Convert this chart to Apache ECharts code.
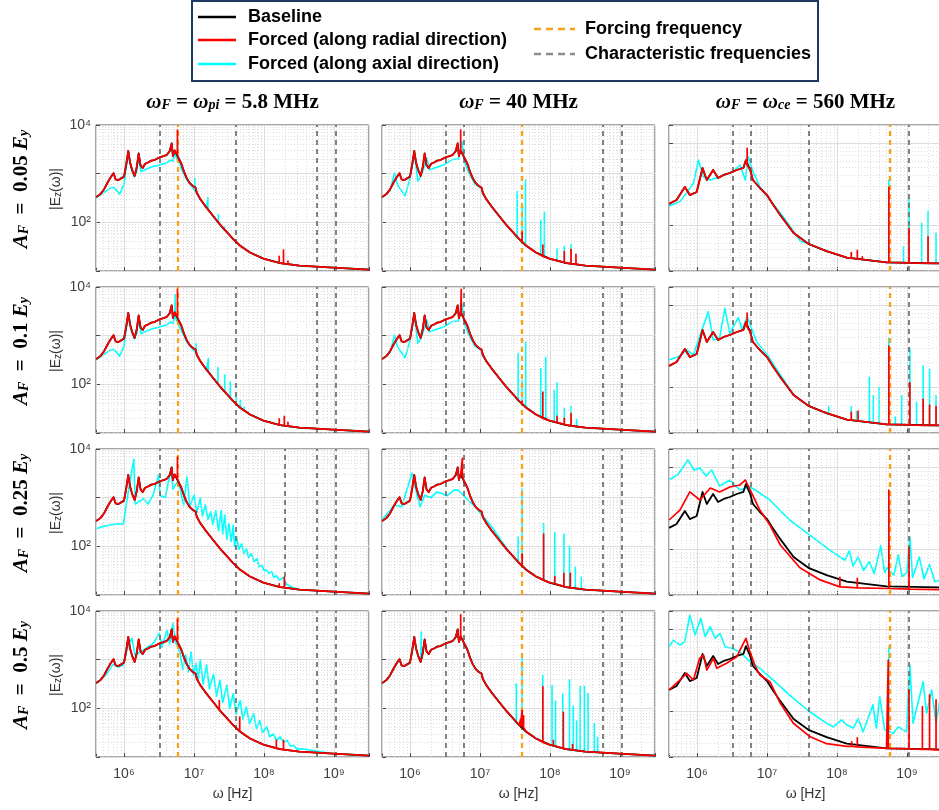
<!DOCTYPE html>
<html>
<head>
<meta charset="utf-8">
<script src="https://cdn.jsdelivr.net/npm/echarts@6/dist/echarts.min.js"></script>
<style>
  html, body { margin: 0; padding: 0; background: #ffffff; }
  #chart { width: 939px; height: 810px; }
</style>
</head>
<body>
<div id="chart"></div>
<script>
// ---------------- axis extents / layout ----------------
const X_MIN = 398107, X_MAX = 3162277660;          // 10^5.6 .. 10^9.5 Hz
const Y_RANGE_STD = [10, 10000];                    // columns 1-2
const Y_RANGE_CE = [27.5, 1660];                    // column 3
const COL_LEFT = [96, 382, 669];
const ROW_TOP = [125, 287, 449, 611];
const PLOT_W = 273, PLOT_H = 146;

// ---------------- labels ----------------
const amplitudes = ['0.05', '0.1', '0.25', '0.5'];
const colTitles = [
  '{w|ω}{s|F}{b| = }{w|ω}{s|pi}{b| = 5.8 MHz}',
  '{w|ω}{s|F}{b| = 40 MHz}',
  '{w|ω}{s|F}{b| = }{w|ω}{s|ce}{b| = 560 MHz}'
];
const xLabelExps = [6, 7, 8, 9];
const yLabelExps = [2, 4];

// ---------------- frequencies (Hz) ----------------
const forcingFreqs = [5.8e6, 4.0e7, 5.6e8];
const characteristicFreqs = [3.2e6, 5.8e6, 4.0e7, 5.6e8, 1.06e9];
const extraCharFreqR3C1 = [1.95e8];

// ---------------- spectra |Ez(w)| : [frequency Hz, amplitude] ----------------
const baseline = [[4.0e5,330],[4.6e5,380],[5.2e5,480],[5.8e5,650],[6.5e5,860],[7.1e5,1020],[7.6e5,760],[8.3e5,740],[9.1e5,800],[1.0e6,870],
  [1.08e6,1600],[1.15e6,2950],[1.22e6,1700],[1.32e6,1150],[1.42e6,900],[1.52e6,1350],[1.62e6,2600],[1.72e6,1500],[1.85e6,1300],[2.0e6,1600],
  [2.2e6,1700],[2.45e6,1850],[2.7e6,1900],[3.0e6,2050],[3.3e6,2200],[3.7e6,2300],[4.1e6,2450],[4.5e6,2900],[4.8e6,4200],[5.0e6,2300],
  [5.3e6,3000],[5.6e6,2800],[6.0e6,2100],[6.6e6,1600],[7.2e6,1100],[7.9e6,800],[8.7e6,640],[9.6e6,560],[1.05e7,520],[1.1e7,400],
  [1.23e7,300],[1.51e7,200],[1.9e7,132],[2.34e7,91],[2.95e7,63],[3.63e7,45],[4.57e7,33],[6.3e7,24],[9.8e7,18],[1.7e8,14.5],
  [3.2e8,12.9],[9.8e8,11.7],[3.16e9,10.7]];

const baselineCe = [[4.0e5,181],[5.1e5,202],[6.7e5,291],[7.9e5,232],[9.9e5,253],[1.2e6,497],[1.38e6,354],[1.7e6,469],[2.0e6,375],[2.4e6,408],
  [2.95e6,431],[3.7e6,469],[4.6e6,497],[5.0e6,620],[5.75e6,469],[6.3e6,354],[7.9e6,283],[1.0e7,232],[1.18e7,186],[1.55e7,132],
  [2.4e7,80],[3.9e7,59],[7.1e7,48],[1.38e8,40],[5.1e8,35],[2.9e9,34],[3.16e9,34]];

// axial-forcing low-frequency parts
const axialHeadA = [[4.0e5,320],[5.0e5,400],[6.3e5,500],[7.2e5,520],[8.7e5,380],[1.0e6,620],[1.08e6,1400],[1.17e6,2700],[1.26e6,1300],[1.4e6,860],
  [1.52e6,1100],[1.62e6,2200],[1.75e6,1100],[2.1e6,1250],[2.6e6,1400],[3.2e6,1500],[4.0e6,1650],[4.6e6,1900],[5.0e6,1800],[5.3e6,2600],
  [5.8e6,1900],[6.6e6,1250],[8.0e6,720],[9.5e6,520],[1.1e7,390]];
const axialHeadB = [[4.0e5,330],[5.2e5,450],[6.0e5,1020],[6.6e5,600],[8.5e5,350],[1.0e6,800],[1.15e6,2600],[1.3e6,690],[1.48e6,1000],[1.74e6,2100],
  [1.9e6,1200],[2.3e6,1320],[3.0e6,1500],[4.0e6,1950],[4.9e6,2000],[5.5e6,4600],[6.0e6,1800],[6.8e6,1100],[8.5e6,600],[1.05e7,500],[1.1e7,380]];
const axialHeadCe1 = [[4.0e5,171],[5.7e5,193],[8.9e5,323],[1.05e6,620],[1.23e6,389],[1.55e6,354],[2.1e6,389],[3.3e6,447],[4.1e6,540],[4.9e6,354],
  [5.4e6,683],[6.3e6,447],[7.9e6,294],[1.1e7,202],[1.7e7,126],[3.0e7,64]];
const axialHeadCe2 = [[4.0e5,214],[5.7e5,239],[7.1e5,283],[8.9e5,246],[1.07e6,393],[1.45e6,830],[1.7e6,375],[2.1e6,393],[2.5e6,912],[2.95e6,452],
  [3.9e6,708],[4.4e6,497],[5.2e6,721],[7.1e6,357],[1.0e7,250],[1.55e7,140]];
const axialHeadR3C1 = [[4.0e5,230],[5.0e5,255],[6.3e5,275],[8.0e5,290],[9.8e5,290],[1.15e6,1300],[1.38e6,6200],[1.45e6,740],[1.9e6,950],[2.2e6,740],
  [2.6e6,1120],[3.1e6,2900],[3.3e6,1100],[3.9e6,1020],[4.7e6,4000],[5.0e6,1500],[6.0e6,2300],[7.1e6,690]];
const axialCombR3C1 = [[7.94e6,2690],[8.7e6,660],[1.0e7,1120],[1.1e7,500],[1.23e7,980],[1.32e7,420],[1.45e7,710],[1.58e7,360],[1.74e7,510],[1.86e7,280],
  [2.04e7,550],[2.24e7,210],[2.45e7,550],[2.57e7,180],[2.75e7,440],[2.95e7,140],[3.16e7,295],[3.39e7,126],[3.63e7,270],[3.8e7,100],
  [4.07e7,155],[4.37e7,87],[4.79e7,112],[5.13e7,71],[5.62e7,89],[6.03e7,59],[6.6e7,71],[7.24e7,48],[7.94e7,56],[8.5e7,38],
  [9.3e7,41],[1.0e8,32],[1.1e8,32],[1.17e8,28],[1.29e8,30],[1.38e8,23],[1.51e8,25],[1.66e8,20],[1.9e8,23],[2.1e8,16.6],[2.5e8,14.5]];
const axialHeadR3C2 = [[4.0e5,350],[6.0e5,710],[7.6e5,650],[1.07e6,3200],[1.26e6,1120],[1.4e6,650],[1.62e6,1120],[2.0e6,1000],[2.4e6,1300],[2.8e6,1230],
  [3.4e6,1100],[4.3e6,1450],[4.9e6,1410],[5.75e6,1120],[8.5e6,650],[1.48e7,250],[2.5e7,83],[3.55e7,48]];
const axialR3C3 = [[4.0e5,695],[5.4e5,822],[7.4e5,1220],[9.1e5,920],[1.1e6,973],[1.35e6,776],[1.62e6,920],[2.1e6,588],[2.95e6,695],[4.1e6,525],
  [5.75e6,571],[7.9e6,482],[1.1e7,396],[2.1e7,226],[4.1e7,148],[7.9e7,97],[1.3e8,73],[1.5e8,95],[1.7e8,62],[2.0e8,80],
  [2.4e8,55],[2.9e8,70],[3.4e8,50],[4.2e8,110],[4.8e8,52],[5.3e8,60],[6.5e8,48],[7.5e8,85],[8.5e8,46],[1.0e9,52],
  [1.1e9,140],[1.2e9,45],[1.5e9,80],[1.75e9,43],[2.1e9,65],[2.5e9,40],[3.16e9,42]];
const axialHeadR4C1 = [[4.0e5,320],[5.6e5,500],[7.1e5,830],[8.3e5,700],[9.8e5,780],[1.15e6,2000],[1.29e6,2750],[1.45e6,1230],[1.9e6,1580],[2.6e6,2140],
  [3.2e6,3470],[3.5e6,1800],[4.1e6,4070],[4.5e6,2100],[5.0e6,5600],[5.5e6,2200],[6.3e6,1450]];
const axialCombR4C1 = [[6.9e6,630],[7.6e6,1260],[8.3e6,560],[9.1e6,1450],[9.8e6,480],[1.07e7,830],[1.15e7,380],[1.23e7,980],[1.35e7,316],[1.51e7,780],
  [1.66e7,250],[1.9e7,510],[2.1e7,178],[2.34e7,380],[2.57e7,132],[2.95e7,295],[3.24e7,100],[3.63e7,200],[3.98e7,76],[4.57e7,145],
  [5.0e7,60],[5.6e7,107],[6.2e7,48],[7.1e7,78],[7.8e7,38],[8.7e7,56],[9.5e7,32],[1.1e8,42],[1.2e8,26],[1.35e8,30],
  [1.51e8,22],[1.7e8,26],[1.9e8,20],[2.14e8,22],[2.4e8,16.6],[2.63e8,17.4],[2.95e8,14.5],[3.47e8,14.8]];
const axialR4C3 = [[4.0e5,609],[4.6e5,735],[5.7e5,638],[6.7e5,701],[7.9e5,1480],[9.4e5,845],[1.13e6,1350],[1.31e6,807],[1.54e6,1070],[1.81e6,771],
  [2.14e6,887],[2.52e6,609],[3.13e6,582],[4.03e6,530],[5.4e6,419],[7.9e6,332],[1.38e7,218],[2.38e7,143],[4.07e7,98],[7.1e7,71],
  [8.9e7,64],[1.16e8,78],[1.37e8,68],[1.71e8,62],[2.0e8,81],[2.36e8,56],[3.26e8,119],[3.65e8,62],[4.07e8,150],[4.8e8,59],
  [6.3e8,53],[7.5e8,64],[9.8e8,56],[1.1e9,364],[1.22e9,71],[1.7e9,228],[1.9e9,94],[2.25e9,181],[2.6e9,71],[2.95e9,136]];

// radial-forcing bodies that depart from the baseline
const radialR3C3 = [[4.0e5,226],[5.7e5,299],[7.9e5,497],[1.1e6,396],[1.55e6,555],[2.1e6,497],[2.95e6,571],[4.1e6,604],[4.9e6,695],[5.75e6,525],
  [7.9e6,299],[1.1e7,196],[1.55e7,112],[2.95e7,59],[5.75e7,42],[1.55e8,34],[3.16e9,32]];
const radialR4C3 = [[4.0e5,181],[5.7e5,239],[7.1e5,288],[8.9e5,239],[1.09e6,440],[1.24e6,482],[1.38e6,316],[1.72e6,440],[1.91e6,332],[2.65e6,382],
  [3.7e6,460],[5.0e6,771],[5.7e6,530],[6.7e6,364],[7.9e6,275],[1.1e7,228],[1.55e7,124],[2.38e7,71],[4.07e7,49],[7.1e7,40],
  [1.38e8,37],[5.1e8,35],[2.6e9,33.5],[3.16e9,33.5]];

// narrow spectral lines: [frequency, foot, top], one list per column
const radialSpikes_A005 = [
  [[5.8e6,2450,7900],[1.65e8,14.6,20],[1.9e8,14.2,27],[2.2e8,13.8,16]],
  [[5.3e6,3000,7900],[4.0e7,40,63],[7.9e7,20,34],[1.6e8,15,25],[2.0e8,14,28],[2.35e8,13.8,22]],
  [[5.2e6,540,860],[1.6e8,39.5,46],[1.95e8,38.5,49],[2.3e8,38,41],[5.5e8,35,288],[1.07e9,34.5,91],[2.0e9,34,72]]
];
const axialSpikes_A005 = [
  [[5.8e6,2450,5000],[1.03e7,450,790],[1.58e7,190,320],[2.23e7,97,145],[2.7e7,70,80]],
  [[3.4e7,48,430],[4.0e7,40,240],[4.47e7,34,740],[7.4e7,22,110],[8.3e7,20,160],[1.26e8,16.5,29],[1.6e8,15,32],[2.0e8,14,35]],
  [[1.6e8,39.5,46],[5.5e8,35,354],[8.9e8,34.5,54],[1.07e9,34.5,212],[1.62e9,34,105],[2.0e9,34,146],[2.6e9,34,80]]
];
const radialSpikes_A01 = [
  [[5.8e6,2450,8900],[1.65e8,14.6,19.5],[1.95e8,14.2,22],[2.2e8,13.8,16.6]],
  [[5.4e6,2900,8900],[4.0e7,40,45],[7.9e7,20,69],[1.26e8,16.5,22],[1.6e8,15,20],[2.0e8,14,25]],
  [[5.2e6,540,800],[1.6e8,39.5,49],[2.0e8,38.5,51],[5.5e8,35,316],[1.1e9,34.5,113],[1.7e9,34,71],[2.1e9,34,60],[2.6e9,34,58]]
];
const axialSpikes_A01 = [
  [[5.4e6,2400,7000],[1.07e7,450,690],[1.6e7,185,340],[2.2e7,100,220],[2.75e7,70,155],[3.3e7,52,112],[4.0e7,41,59],[4.6e7,33,47],[5.2e7,30,34]],
  [[3.5e7,46,430],[4.0e7,41,120],[4.5e7,35,740],[7.4e7,22,210],[8.7e7,19,360],[1.15e8,17,74],[1.26e8,16.5,107],[1.6e8,15,32],[2.0e8,14,35],[2.4e8,13.5,19]],
  [[7.6e7,47,58],[1.6e8,39.5,58],[1.9e8,38.5,50],[2.9e8,37,131],[3.3e8,36.5,79],[4.0e8,36,99],[5.5e8,35,393],[6.8e8,35,43],[8.4e8,34.5,78],
   [1.1e9,34.5,297],[1.37e9,34.5,65],[1.7e9,34,181],[2.1e9,34,165],[2.6e9,34,79]]
];
const radialSpikes_A025 = [
  [[5.8e6,2450,6800],[1.65e8,14.6,17],[1.95e8,14.2,23],[2.25e8,13.8,15]],
  [[5.6e6,2800,6400],[4.0e7,40,70],[8.1e7,20,178],[1.17e8,17,24],[1.58e8,15,28],[1.95e8,14.2,28]],
  [[1.1e8,34.5,45],[1.95e8,33.5,44],[5.5e8,33,525],[1.07e9,32.5,103]]
];
const axialSpikes_A025 = [
  [],
  [[3.5e7,48,155],[4.0e7,42,1500],[8.1e7,20,295],[1.17e8,17,190],[1.58e8,15,178],[1.9e8,14.2,100],[2.3e8,13.6,37],[2.8e8,13,23]],
  [[5.5e8,55,400]]
];
const radialSpikes_A05 = [
  [[5.8e6,2450,6800],[2.3e7,92,145],[4.5e7,34,66],[1.5e8,15,22],[1.9e8,14.2,22]],
  [[5.3e6,3000,8300],[3.8e7,44,60],[4.0e7,42,91],[4.2e7,40,70],[7.9e7,20,275],[1.12e8,17,22],[1.55e8,15,83],[2.1e8,14,18]],
  [[1.62e8,37,42],[1.95e8,36.5,47],[5.4e8,35,419],[1.07e9,34.5,181],[1.66e9,34,113],[2.1e9,34,157],[2.6e9,33.5,137]]
];
const axialSpikes_A05 = [
  [],
  [[1.45e6,950,3700],[3.3e7,50,320],[4.0e7,42,1230],[7.9e7,20,480],[1.07e8,17.5,295],[1.2e8,16.5,140],[1.52e8,15,200],[1.9e8,14.2,380],
   [2.15e8,13.8,110],[2.4e8,13.5,55],[2.7e8,13.2,280],[3.1e8,13,280],[3.5e8,12.8,200],[4.3e8,12.5,48],[4.8e8,12.4,25]],
  [[5.5e8,57,609]]
];

// ---------------- helpers ----------------
// continue a read head segment with the later part of a reference curve
function join(head, tail) {
  const last = head[head.length - 1][0];
  return head.concat(tail.filter(p => p[0] > last));
}
// insert narrow lines (vertical excursions) into a curve
function withSpikes(body, spikes) {
  const pts = body.map(p => [p[0], p[1], 0]);
  spikes.forEach(s => { pts.push([s[0], s[1], 1], [s[0], s[2], 2], [s[0], s[1], 3]); });
  pts.sort((a, b) => (a[0] - b[0]) || (a[2] - b[2]));
  return pts.map(p => [p[0], p[1]]);
}

// per-panel curves [row][col]
const radialCurves = [
  [withSpikes(baseline, radialSpikes_A005[0]), withSpikes(baseline, radialSpikes_A005[1]), withSpikes(baselineCe, radialSpikes_A005[2])],
  [withSpikes(baseline, radialSpikes_A01[0]), withSpikes(baseline, radialSpikes_A01[1]), withSpikes(baselineCe, radialSpikes_A01[2])],
  [withSpikes(baseline, radialSpikes_A025[0]), withSpikes(baseline, radialSpikes_A025[1]), withSpikes(radialR3C3, radialSpikes_A025[2])],
  [withSpikes(baseline, radialSpikes_A05[0]), withSpikes(baseline, radialSpikes_A05[1]), withSpikes(radialR4C3, radialSpikes_A05[2])]
];
const axialCurves = [
  [withSpikes(join(axialHeadA, baseline), axialSpikes_A005[0]), withSpikes(join(axialHeadB, baseline), axialSpikes_A005[1]), withSpikes(join(axialHeadCe1, baselineCe), axialSpikes_A005[2])],
  [withSpikes(join(axialHeadA, baseline), axialSpikes_A01[0]), withSpikes(join(axialHeadB, baseline), axialSpikes_A01[1]), withSpikes(join(axialHeadCe2, baselineCe), axialSpikes_A01[2])],
  [join(axialHeadR3C1.concat(axialCombR3C1), baseline), withSpikes(join(axialHeadR3C2, baseline), axialSpikes_A025[1]), withSpikes(axialR3C3, axialSpikes_A025[2])],
  [join(axialHeadR4C1.concat(axialCombR4C1), baseline), withSpikes(baseline, axialSpikes_A05[1]), withSpikes(axialR4C3, axialSpikes_A05[2])]
];
const baselineCurves = [baseline, baseline, baselineCe];

// ---------------- styling ----------------
const C_BLACK = '#000000', C_RED = '#ff0000', C_CYAN = '#00ffff', C_ORANGE = '#f7a21b', C_GRAY = '#6e6e6e';
const SUP = { '0': '⁰', '1': '¹', '2': '²', '3': '³', '4': '⁴', '5': '⁵', '6': '⁶', '7': '⁷', '8': '⁸', '9': '⁹' };
function decadeLabel(v, allowed) {
  const l = Math.log10(v), e = Math.round(l);
  if (Math.abs(l - e) > 1e-6 || allowed.indexOf(e) < 0) return '';
  return '10' + String(e).split('').map(d => SUP[d]).join('');
}
function minorValues(lo, hi) {
  const out = [];
  for (let e = Math.floor(Math.log10(lo)); e <= Math.ceil(Math.log10(hi)); e++) {
    for (let k = 2; k <= 9; k++) { const v = k * Math.pow(10, e); if (v > lo && v < hi) out.push(v); }
  }
  return out;
}

const grids = [], xAxes = [], yAxes = [], series = [];
for (let r = 0; r < 4; r++) {
  for (let c = 0; c < 3; c++) {
    const i = r * 3 + c;
    const yr = c === 2 ? Y_RANGE_CE : Y_RANGE_STD;
    grids.push({ left: COL_LEFT[c], top: ROW_TOP[r], width: PLOT_W, height: PLOT_H, show: true,
      backgroundColor: '#ffffff', borderColor: '#4a4a4a', borderWidth: 1, containLabel: false, outerBoundsMode: 'none' });
    xAxes.push({ type: 'log', logBase: 10, gridIndex: i, min: X_MIN, max: X_MAX,
      axisLine: { show: false },
      axisTick: { show: true, inside: true, length: 4, lineStyle: { color: '#4a4a4a', width: 1 } },
      splitLine: { show: true, lineStyle: { color: '#dedede', width: 1 } },
      axisLabel: { show: r === 3, margin: 10, color: '#404040', fontSize: 14, fontFamily: 'Liberation Sans',
        formatter: v => decadeLabel(v, xLabelExps) } });
    yAxes.push({ type: 'log', logBase: 10, gridIndex: i, min: yr[0], max: yr[1],
      axisLine: { show: false },
      axisTick: { show: true, inside: true, length: 4, lineStyle: { color: '#4a4a4a', width: 1 } },
      splitLine: { show: true, lineStyle: { color: '#dedede', width: 1 } },
      axisLabel: { show: c === 0, margin: 5, color: '#404040', fontSize: 14, fontFamily: 'Liberation Sans',
        formatter: v => decadeLabel(v, yLabelExps) } });

    const minorLines = minorValues(X_MIN, X_MAX).map(v => ({ xAxis: v }))
      .concat(minorValues(yr[0], yr[1]).map(v => ({ yAxis: v })));
    const chars = characteristicFreqs.concat(r === 2 && c === 0 ? extraCharFreqR3C1 : []);
    const base = { type: 'line', xAxisIndex: i, yAxisIndex: i, silent: true, animation: false };
    series.push(Object.assign({}, base, { data: [], z: 1,
      markLine: { silent: true, animation: false, symbol: ['none', 'none'], label: { show: false },
        lineStyle: { color: '#d4d4d4', type: [1, 2], width: 0.8 }, data: minorLines } }));
    series.push(Object.assign({}, base, { data: [], z: 2,
      markLine: { silent: true, animation: false, symbol: ['none', 'none'], label: { show: false },
        lineStyle: { color: C_GRAY, type: [5, 4], width: 1.7 }, data: chars.map(v => ({ xAxis: v })) } }));
    series.push(Object.assign({}, base, { data: [], z: 3,
      markLine: { silent: true, animation: false, symbol: ['none', 'none'], label: { show: false },
        lineStyle: { color: C_ORANGE, type: [5, 4], width: 2.3 }, data: [{ xAxis: forcingFreqs[c] }] } }));
    const curve = (data, color, w, z) => Object.assign({}, base, { data, z, showSymbol: false, symbol: 'none', clip: true,
      lineStyle: { color, width: w, join: 'round' }, itemStyle: { color } });
    series.push(curve(axialCurves[r][c], C_CYAN, 1.6, 4));
    series.push(curve(baselineCurves[c], C_BLACK, 1.8, 5));
    series.push(curve(radialCurves[r][c], C_RED, 1.7, 6));
  }
}

// ---------------- texts & legend ----------------
const graphic = [];
const serif = 'Liberation Serif';
const titleRich = {
  w: { fontFamily: serif, fontWeight: 'bold', fontStyle: 'italic', fontSize: 21, fill: '#000', padding: [0, 0, 4, 0] },
  b: { fontFamily: serif, fontWeight: 'bold', fontSize: 21, fill: '#000', padding: [0, 0, 4, 0] },
  s: { fontFamily: serif, fontWeight: 'bold', fontStyle: 'italic', fontSize: 14, fill: '#000' }
};
colTitles.forEach((t, c) => {
  graphic.push({ type: 'text', x: COL_LEFT[c] + PLOT_W / 2, y: 105, silent: true,
    style: { text: t, rich: titleRich, align: 'center', verticalAlign: 'middle' } });
});
amplitudes.forEach((a, r) => {
  const cy = ROW_TOP[r] + PLOT_H / 2;
  graphic.push({ type: 'text', x: 24, y: cy - 9, rotation: Math.PI / 2, silent: true,
    style: { text: '{w|A}{s|F}{b|\u2002=\u2002' + a + ' }{w|E}{s|y}', rich: titleRich, align: 'center', verticalAlign: 'middle' } });
  graphic.push({ type: 'text', x: 58, y: cy - 9, rotation: Math.PI / 2, silent: true,
    style: { text: '{n||E}{z|z}{n|(ω)|}', align: 'center', verticalAlign: 'middle',
      rich: { n: { fontFamily: 'Liberation Sans', fontSize: 14, fill: '#333', padding: [0, 0, 3, 0] },
              z: { fontFamily: 'Liberation Sans', fontSize: 10, fill: '#333' } } } });
});
COL_LEFT.forEach(x0 => {
  graphic.push({ type: 'text', x: x0 + PLOT_W / 2, y: 794, silent: true,
    style: { text: 'ω [Hz]', font: '14px "Liberation Sans"', fill: '#333', align: 'center', verticalAlign: 'middle' } });
});

// legend box
graphic.push({ type: 'rect', silent: true, shape: { x: 192, y: 1, width: 626, height: 80 },
  style: { fill: '#ffffff', stroke: '#1f3864', lineWidth: 2 } });
const legendItems = [
  { x1: 198, x2: 236, y: 17, color: C_BLACK, dash: null, text: 'Baseline', tx: 248 },
  { x1: 198, x2: 236, y: 40, color: C_RED, dash: null, text: 'Forced (along radial direction)', tx: 248 },
  { x1: 198, x2: 236, y: 64, color: C_CYAN, dash: null, text: 'Forced (along axial direction)', tx: 248 },
  { x1: 534, x2: 575, y: 29, color: C_ORANGE, dash: [7, 5], text: 'Forcing frequency', tx: 585 },
  { x1: 534, x2: 575, y: 54, color: '#8c8c8c', dash: [7, 5], text: 'Characteristic frequencies', tx: 585 }
];
legendItems.forEach(it => {
  graphic.push({ type: 'line', silent: true, shape: { x1: it.x1, y1: it.y, x2: it.x2, y2: it.y },
    style: { stroke: it.color, lineWidth: 2.5, lineDash: it.dash } });
  graphic.push({ type: 'text', x: it.tx, y: it.y, silent: true,
    style: { text: it.text, font: 'bold 18px "Liberation Sans"', fill: '#000', align: 'left', verticalAlign: 'middle' } });
});

const chart = echarts.init(document.getElementById('chart'));
chart.setOption({
  animation: false,
  backgroundColor: '#ffffff',
  grid: grids,
  xAxis: xAxes,
  yAxis: yAxes,
  series: series,
  graphic: graphic
});
</script>
</body>
</html>
